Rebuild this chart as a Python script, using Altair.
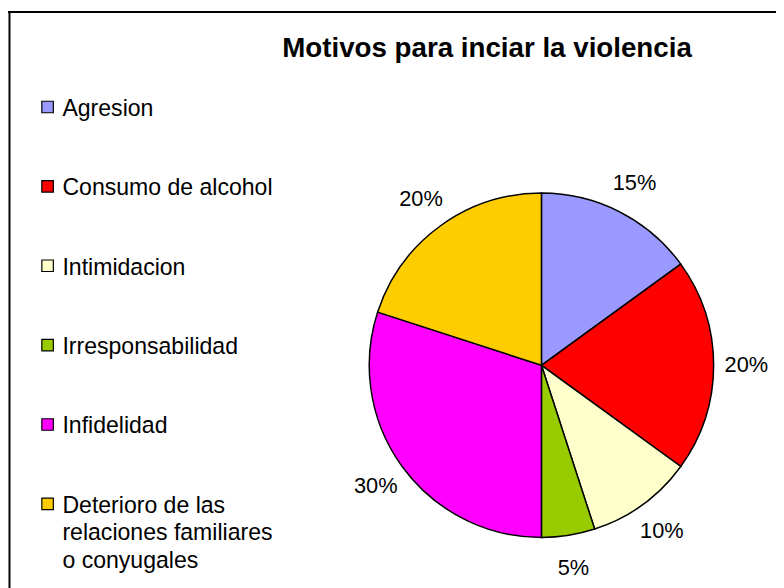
import altair as alt
import pandas as pd

title_text = ["Motivos para inciar la violencia"]
categories = [
    "Agresion",
    "Consumo de alcohol",
    "Intimidacion",
    "Irresponsabilidad",
    "Infidelidad",
    "Deterioro de las relaciones familiares o conyugales",
]
legend_labels = [
    "Agresion",
    "Consumo de alcohol",
    "Intimidacion",
    "Irresponsabilidad",
    "Infidelidad",
    "Deterioro de las\nrelaciones familiares\no conyugales",
]
percent = [15, 20, 10, 5, 30, 20]
colors = ["#9999FF", "#FF0000", "#FFFFCC", "#99CC00", "#FF00FF", "#FFCC00"]

df = pd.DataFrame({
    "cat": categories,
    "legend": legend_labels,
    "pct": percent,
    "order": list(range(len(categories))),
    "label": [f"{p}%" for p in percent],
})
tdf = pd.DataFrame({"t": title_text})

FONT = "Liberation Sans"
color_scale = alt.Scale(domain=categories, range=colors)
CX, CY, R = 539, 358, 174

base = alt.Chart(df)

pie = base.mark_arc(outerRadius=R, stroke="black", strokeWidth=1.5).encode(
    theta=alt.Theta("pct:Q", stack=True),
    order=alt.Order("order:Q"),
    color=alt.Color("cat:N", scale=color_scale, legend=None),
    x=alt.value(CX),
    y=alt.value(CY),
)

labels = base.mark_text(radius=207, font=FONT, fontSize=22, color="black").encode(
    theta=alt.Theta("pct:Q", stack=True),
    order=alt.Order("order:Q"),
    text="label:N",
    x=alt.value(CX),
    y=alt.value(CY),
)

ypos = alt.Y("cat:N", sort=categories, axis=None,
             scale=alt.Scale(range=[97, 498], padding=0))

leg_sq = base.mark_square(size=135, stroke="black", strokeWidth=1.2, opacity=1).encode(
    x=alt.value(40),
    y=ypos,
    color=alt.Color("cat:N", scale=color_scale, legend=None),
)

leg_txt = base.mark_text(
    align="left", baseline="top", dy=-9, font=FONT, fontSize=23.3,
    lineBreak="\n", lineHeight=28, color="black",
).encode(
    x=alt.value(55),
    y=ypos,
    text="legend:N",
)

title = alt.Chart(tdf).mark_text(
    align="center", baseline="middle", font=FONT, fontSize=28, fontWeight="bold",
    color="black",
).encode(x=alt.value(484), y=alt.value(38), text="t:N")

border_top = alt.Chart(tdf).mark_rule(color="black", strokeWidth=2).encode(
    x=alt.value(0), x2=alt.value(780), y=alt.value(1))
border_left = alt.Chart(tdf).mark_rule(color="black", strokeWidth=2).encode(
    x=alt.value(1.5), y=alt.value(0), y2=alt.value(600))

chart = alt.layer(
    pie, labels, leg_sq, leg_txt, title, border_top, border_left
).resolve_scale(y="independent", theta="shared").properties(
    width=776, height=580, padding=0,
    autosize=alt.AutoSizeParams(type="none"),
).configure_view(stroke=None)

chart.save("out.html", embed_options={"renderer": "svg", "actions": False})
